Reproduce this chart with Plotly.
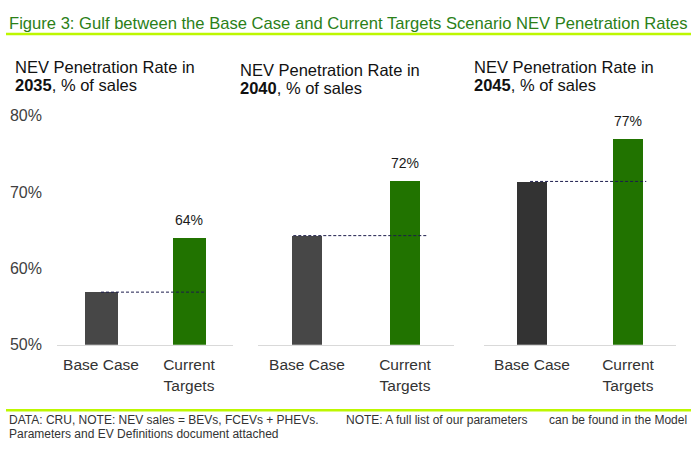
import plotly.graph_objects as go

W, H = 698, 451

years = ["2035", "2040", "2045"]
categories = ["Base Case", "Current<br>Targets"]
base_case = [56.9, 64.3, 71.4]
current_targets = [64.0, 71.5, 77.0]
value_labels = ["64%", "72%", "77%"]
y_ticks = [50, 60, 70, 80]
y_tick_labels = ["50%", "60%", "70%", "80%"]

title_text = "Figure 3: Gulf between the Base Case and Current Targets Scenario NEV Penetration Rates"
foot1_parts = ["DATA: CRU, NOTE: NEV sales = BEVs, FCEVs + PHEVs.",
               "NOTE: A full list of our parameters",
               "can be found in the Model"]
foot2 = "Parameters and EV Definitions document attached"

FONT = "Liberation Sans, Arial, sans-serif"

# style / layout (pixels)
domains_px = [(57, 233), (258, 454), (484, 676)]
bar_widths = [0.375, 0.31, 0.31]
base_colors = ["#474747", "#474747", "#333333"]
green = "#217300"
dash_x = [(0.0, 1.19), (-0.14, 1.23), (-0.02, 1.19)]
title_pos = [(13, 61, 80), (238, 64, 83), (472, 61, 80)]
foot1_x = [(7, "left"), (344, "left"), (689, "right")]

def px_x(x):
    return x / W

def px_y(y):
    return 1 - y / H

fig = go.Figure()
shapes = []
annotations = []

for i in range(3):
    xa = "x" if i == 0 else f"x{i+1}"
    ya = "y" if i == 0 else f"y{i+1}"
    fig.add_trace(go.Bar(
        x=[0, 1],
        y=[base_case[i], current_targets[i]],
        marker=dict(color=[base_colors[i], green], line=dict(width=0)),
        width=bar_widths[i],
        xaxis=xa, yaxis=ya,
        showlegend=False,
        hoverinfo="skip",
    ))
    shapes.append(dict(type="line", xref=xa, yref=ya,
                       x0=dash_x[i][0], x1=dash_x[i][1],
                       y0=base_case[i], y1=base_case[i],
                       line=dict(color="#1c1c4c", width=1, dash="3px,2px")))
    annotations.append(dict(xref=xa, yref=ya, x=1, y=current_targets[i],
                            text=value_labels[i], showarrow=False,
                            yanchor="bottom", yshift=8,
                            font=dict(family=FONT, size=14, color="#1a1a1a")))
    tx, ty1, ty2 = title_pos[i]
    annotations.append(dict(xref="paper", yref="paper", x=px_x(tx), y=px_y(ty1),
                            xanchor="left", yanchor="middle", showarrow=False,
                            text="NEV Penetration Rate in",
                            font=dict(family=FONT, size=16.5, color="#111111")))
    annotations.append(dict(xref="paper", yref="paper", x=px_x(tx), y=px_y(ty2),
                            xanchor="left", yanchor="middle", showarrow=False,
                            text=f"<b>{years[i]}</b>, % of sales",
                            font=dict(family=FONT, size=16.5, color="#111111")))

    d0, d1 = domains_px[i]
    xaxis = dict(domain=[px_x(d0), px_x(d1)], range=[-0.5, 1.5],
                 tickvals=[0, 1], ticktext=categories,
                 showgrid=False, zeroline=False,
                 showline=True, linecolor="#d9d9d9", linewidth=1,
                 ticks="", ticklabelstandoff=6,
                 tickfont=dict(family=FONT, size=15.5, color="#333333"),
                 anchor=ya, fixedrange=True)
    yaxis = dict(domain=[px_y(350), px_y(112)], range=[50, 80],
                 tickvals=y_ticks, ticktext=y_tick_labels,
                 showgrid=False, zeroline=False, showline=False,
                 showticklabels=(i == 0), ticks="",
                 ticklabelstandoff=14,
                 tickfont=dict(family=FONT, size=16, color="#404040"),
                 anchor=xa, fixedrange=True)
    fig.update_layout(**{("xaxis" if i == 0 else f"xaxis{i+1}"): xaxis,
                         ("yaxis" if i == 0 else f"yaxis{i+1}"): yaxis})

# header
annotations.append(dict(xref="paper", yref="paper", x=px_x(7), y=px_y(16),
                        xanchor="left", yanchor="middle", showarrow=False,
                        text=title_text,
                        font=dict(family=FONT, size=16.6, color="#2b8018")))
# footer (first line approximately justified)
for part, (fx, anc) in zip(foot1_parts, foot1_x):
    annotations.append(dict(xref="paper", yref="paper", x=px_x(fx), y=px_y(428),
                            xanchor=anc, yanchor="middle", showarrow=False,
                            text=part,
                            font=dict(family=FONT, size=12, color="#333333")))
annotations.append(dict(xref="paper", yref="paper", x=px_x(7), y=px_y(443),
                        xanchor="left", yanchor="middle", showarrow=False,
                        text=foot2,
                        font=dict(family=FONT, size=12, color="#333333")))
shapes.append(dict(type="line", xref="paper", yref="paper",
                   x0=px_x(6), x1=px_x(691), y0=px_y(27), y1=px_y(27),
                   line=dict(color="#bdf700", width=2.5)))
shapes.append(dict(type="line", xref="paper", yref="paper",
                   x0=px_x(6), x1=px_x(691), y0=px_y(418), y1=px_y(418),
                   line=dict(color="#bdf700", width=2.5)))

fig.update_layout(
    width=W, height=H,
    margin=dict(l=0, r=0, t=0, b=0),
    paper_bgcolor="white", plot_bgcolor="white",
    shapes=shapes, annotations=annotations,
    bargap=0,
    font=dict(family=FONT),
)

fig.write_html(
    "out.html",
    config={"displayModeBar": False},
    post_script="document.body.style.margin='0';document.body.style.overflow='hidden';",
)
